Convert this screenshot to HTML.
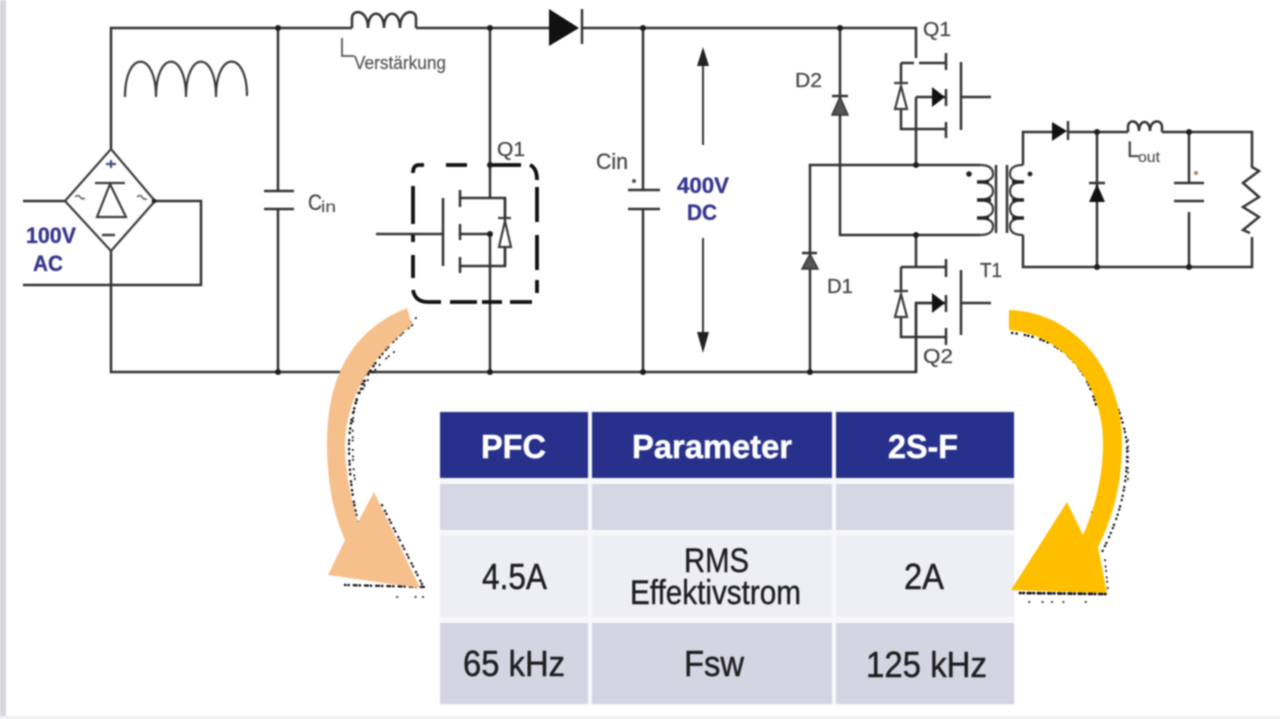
<!DOCTYPE html>
<html><head><meta charset="utf-8"><style>
html,body{margin:0;padding:0;background:#fff;width:1280px;height:719px;overflow:hidden}
svg{display:block;filter:blur(.8px)}
text{font-family:"Liberation Sans",sans-serif}
.w{fill:none;stroke:#333;stroke-width:2.5}
.t{fill:none;stroke:#3c3c3c;stroke-width:2.2}
.l{fill:#444;font-size:20px;stroke:#444;stroke-width:.25}
.s{fill:#555;font-size:15px;stroke:#555;stroke-width:.2}
.b{fill:#35358c;font-size:22px;font-weight:bold;stroke:#35358c;stroke-width:.3}
.h{fill:#fff;font-size:33px;font-weight:bold;stroke:#fff;stroke-width:.5}
.c{fill:#1e1e1e;font-size:36px;stroke:#1e1e1e;stroke-width:.45}
.c2{fill:#1e1e1e;font-size:34px;stroke:#1e1e1e;stroke-width:.4}
.d{fill:none;stroke:#0c0c0c;stroke-linecap:round}
</style></head><body>
<svg width="1280" height="719" viewBox="0 0 1280 719" xmlns="http://www.w3.org/2000/svg">
<rect width="1280" height="719" fill="#fff"/>
<rect x="0" y="0" width="6" height="719" fill="#d6d6e0"/>
<rect x="0" y="716" width="1280" height="3" fill="#f0f0f0"/>

<!-- main wires -->
<path class="w" d="M111 149V28H352M416 28H549M583 28H916V58"/>
<path class="w" d="M111 251V372H916V303H945"/>
<path class="w" d="M23 201H65M155 201H201V285H23"/>
<path class="w" d="M278 28V191M278 209V372"/>
<path class="w" d="M490 28V198M490 234V372"/>
<path class="w" d="M643 28V190M643 209V372"/>
<!-- inductor top -->
<path class="w" d="M352 28V18C352 9 368 9 368 28C368 9 384 9 384 28C384 9 400 9 400 28C400 9 416 9 416 18V28"/>
<!-- big inductor -->
<path class="t" d="M125 97C125 50 156 50 156 97C156 50 186 50 186 97C186 50 216 50 216 97C216 50 247 50 247 96"/>
<!-- bridge -->
<path class="t" d="M111 149L155 201L111 251L65 201Z"/>
<path class="t" d="M95 183H125"/>
<path class="t" d="M110 184L97 217H126Z"/>
<path d="M106 164H116M111 160V168" stroke="#3f4f80" stroke-width="2.2"/>
<path d="M102 235H115" stroke="#444" stroke-width="2.5"/>
<path d="M75 197q3-3 5 0t5 1M137 197q3-3 5 0t5 2" stroke="#7a6a60" stroke-width="1.8" fill="none"/>
<circle cx="154" cy="201" r="2.4" fill="#222"/>
<!-- Cin left plates -->
<path class="w" d="M264 191H294M264 209H294"/>
<!-- PFC mosfet -->
<path d="M424 165H419Q413 165 413 173M446 165H467M490 165H521M530 165Q537 168 537 180M537 187V222M537 235V270M537 280V293M413 186V224M413 234V242M413 255V278M413 290Q415 302 428 302H441M450 302H477M482 302H502M510 302H532" fill="none" stroke="#111" stroke-width="3.8"/>
<path class="w" d="M376 234H442M460 234H490M460 198H505V266H460"/>
<path class="w" d="M443 198V266"/>
<path class="w" d="M460 190V207M460 224V240M460 257V273"/>
<path class="t" d="M498 218H511M505 221L499 247H511Z" style="fill:#fff"/>
<path class="w" d="M505 198V218M505 247V266"/>
<!-- main diode -->
<path d="M549 9L579 28L549 46Z" fill="#111"/>
<path d="M582 9V44" stroke="#333" stroke-width="2.4"/>
<!-- Cin 2 plates -->
<path class="w" d="M628 190H660M628 209H660"/>
<circle cx="634" cy="181" r="2" fill="#554"/>
<!-- 400V arrows -->
<path d="M703 60V145M703 238V340" stroke="#333" stroke-width="2"/>
<path d="M703 47L697 66H709Z M703 353L697 332H709Z" fill="#222"/>
<!-- right half-bridge wires -->
<path class="w" d="M840 28V235H980M810 372V165H980"/>
<path class="w" d="M832 96H848"/>
<path d="M840 97L832 115H848Z" fill="#555" stroke="#333" stroke-width="1.5"/>
<path class="w" d="M802 253H817"/>
<path d="M810 254L802 269H818Z" fill="#555" stroke="#333" stroke-width="1.5"/>
<!-- upper mosfet -->
<path class="w" d="M901 63H914M919 63H946M901 63V83M901 110V129H946M916 97V165M916 97H946"/>
<path class="w" d="M946 53V70M946 89V106M946 122V138M961 62V130M961 97H991"/>
<path d="M932 87L945 97L932 107Z" fill="#111"/>
<path class="t" d="M894 83H908M901 86L895 109H907Z"/>
<!-- lower mosfet -->
<path class="w" d="M916 235V267M901 267H946M901 267V291M901 317V337H946M916 303V372M916 303H946"/>
<path class="w" d="M946 259V277M946 295V312M946 328V345M961 270V335M961 303H991"/>
<path d="M932 293L945 303L932 313Z" fill="#111"/>
<path class="t" d="M894 291H908M901 294L895 317H907Z"/>
<!-- transformer -->
<path class="w" d="M996 165V233M1007 165V233"/>
<path class="t" d="M980 165Q993 165 993 174Q993 182 977 182Q993 182 993 191Q993 200 977 200Q993 200 993 209Q993 218 977 218Q993 218 993 226Q993 235 980 235"/>
<path class="t" d="M1023 165Q1010 165 1010 174Q1010 182 1024 182Q1010 182 1010 191Q1010 200 1024 200Q1010 200 1010 209Q1010 218 1024 218Q1010 218 1010 226Q1010 235 1023 235"/>
<path d="M977 182H989M977 200H991M977 218H989M1012 182H1024M1012 200H1024M1012 218H1024" stroke="#222" stroke-width="3.4"/>
<circle cx="969" cy="174" r="2.8" fill="#222"/><circle cx="1030" cy="174" r="2.4" fill="#222"/>
<!-- output -->
<path class="w" d="M1023 165V132H1052M1068 132H1128M1162 132H1252V167L1259 171L1243 183L1259 197L1243 207L1259 217L1243 230L1250 233M1252 237V267H1023V235"/>
<path d="M1052 122L1067 131L1052 141Z" fill="#111"/>
<path d="M1068 121V140" stroke="#333" stroke-width="2.4"/>
<path class="w" d="M1097 132V267M1089 183H1105"/>
<path d="M1097 184L1089 202H1105Z" fill="#111"/>
<path class="w" d="M1128 132V127C1128 119 1139 119 1139 131C1139 119 1150 119 1150 131C1150 119 1162 119 1162 127V132"/>
<path class="w" d="M1189 132V183M1189 212V267M1174 183H1204M1174 201H1204"/>
<circle cx="1196" cy="173" r="2" fill="#a85"/>
<!-- junction dots -->
<g fill="#1c1c1c">
<circle cx="278" cy="28" r="3"/><circle cx="278" cy="372" r="3"/>
<circle cx="490" cy="28" r="3"/><circle cx="490" cy="165" r="3"/><circle cx="490" cy="234" r="3"/><circle cx="490" cy="372" r="3"/>
<circle cx="643" cy="28" r="3"/><circle cx="643" cy="372" r="3"/>
<circle cx="840" cy="28" r="3"/><circle cx="810" cy="372" r="3"/>
<circle cx="916" cy="165" r="3"/><circle cx="916" cy="235" r="3"/>
<circle cx="1097" cy="132" r="3"/><circle cx="1097" cy="267" r="3"/>
<circle cx="1189" cy="132" r="3"/><circle cx="1189" cy="267" r="3"/>
</g>
<!-- labels -->
<path d="M342 38V56H354" fill="none" stroke="#555" stroke-width="1.8"/>
<text class="s" x="354" y="69" textLength="92" lengthAdjust="spacingAndGlyphs" style="font-size:18px">Verstärkung</text>
<text class="l" x="308" y="210" textLength="14" lengthAdjust="spacingAndGlyphs" style="font-size:22px">C</text>
<text class="s" x="321" y="212" textLength="15" lengthAdjust="spacingAndGlyphs" style="font-size:16px">in</text>
<text class="l" x="497" y="156" textLength="28" lengthAdjust="spacingAndGlyphs">Q1</text>
<text class="l" x="596" y="169" textLength="32" lengthAdjust="spacingAndGlyphs" style="font-size:22px">Cin</text>
<text class="l" x="795" y="87" textLength="27" lengthAdjust="spacingAndGlyphs">D2</text>
<text class="l" x="827" y="293" textLength="26" lengthAdjust="spacingAndGlyphs">D1</text>
<text class="l" x="923" y="36" textLength="28" lengthAdjust="spacingAndGlyphs">Q1</text>
<text class="l" x="923" y="363" textLength="30" lengthAdjust="spacingAndGlyphs">Q2</text>
<text class="l" x="980" y="277" textLength="22" lengthAdjust="spacingAndGlyphs">T1</text>
<text class="l" x="1127" y="157" style="font-size:22px">L</text>
<text class="s" x="1138" y="162" textLength="22" lengthAdjust="spacingAndGlyphs">out</text>
<text class="b" x="677" y="193" textLength="52" lengthAdjust="spacingAndGlyphs">400V</text>
<text class="b" x="687" y="220" textLength="30" lengthAdjust="spacingAndGlyphs">DC</text>
<text class="b" x="26" y="243" textLength="50" lengthAdjust="spacingAndGlyphs">100V</text>
<text class="b" x="33" y="271" textLength="30" lengthAdjust="spacingAndGlyphs">AC</text>
<!-- table -->
<rect x="440" y="410" width="575" height="296" fill="#f8f8fb"/>
<g fill="#27308b">
<rect x="440" y="412" width="148" height="66"/><rect x="592" y="412" width="240" height="66"/><rect x="836" y="412" width="178" height="66"/>
</g>
<g fill="#d6d6e4">
<rect x="440" y="484" width="148" height="46"/><rect x="592" y="484" width="240" height="46"/><rect x="836" y="484" width="178" height="46"/>
</g>
<g fill="#eeeef5">
<rect x="440" y="535" width="148" height="82"/><rect x="592" y="535" width="240" height="82"/><rect x="836" y="535" width="178" height="82"/>
</g>
<g fill="#d4d4e3">
<rect x="440" y="623" width="148" height="81"/><rect x="592" y="623" width="240" height="81"/><rect x="836" y="623" width="178" height="81"/>
</g>
<text class="h" x="481" y="458" textLength="65" lengthAdjust="spacingAndGlyphs">PFC</text>
<text class="h" x="632" y="458" textLength="160" lengthAdjust="spacingAndGlyphs">Parameter</text>
<text class="h" x="888" y="458" textLength="70" lengthAdjust="spacingAndGlyphs">2S-F</text>
<text class="c" x="482" y="589" textLength="65" lengthAdjust="spacingAndGlyphs">4.5A</text>
<text class="c2" x="684" y="572" textLength="65" lengthAdjust="spacingAndGlyphs">RMS</text>
<text class="c2" x="630" y="604" textLength="171" lengthAdjust="spacingAndGlyphs">Effektivstrom</text>
<text class="c" x="904" y="589" textLength="40" lengthAdjust="spacingAndGlyphs">2A</text>
<text class="c" x="463" y="676" textLength="102" lengthAdjust="spacingAndGlyphs">65 kHz</text>
<text class="c" x="684" y="676" textLength="60" lengthAdjust="spacingAndGlyphs">Fsw</text>
<text class="c" x="866" y="677" textLength="121" lengthAdjust="spacingAndGlyphs">125 kHz</text>
<!-- orange arrow stipple -->
<path class="d" stroke-width="2.4" stroke-dasharray=".4 4 .4 7 .4 3 .4 5" d="M412 325Q352 372 349 443Q349 485 358 522"/>
<path class="d" stroke-width="1.8" stroke-dasharray=".4 6 .4 3 .4 9" d="M416 318Q358 360 353 420Q352 465 355 480M394 352Q370 370 360 396"/>
<path class="d" stroke-width="2.2" stroke-dasharray=".4 6 .4 3" d="M382 505L424 588"/>
<path class="d" stroke-width="2.4" stroke-dasharray=".4 3 .4 5 .4 2" d="M345 585L424 587"/>
<path class="d" stroke-width="1.8" stroke-dasharray=".4 18 .4 7" d="M397 597L424 597"/>
<path d="M407 308Q327 340 327 443Q327 500 345 540L328 575L420 588L374 492L358 522Q345 480 345 443Q348 375 412 325Z" fill="#f5c08c"/>
<!-- yellow arrow stipple -->
<path class="d" stroke-width="2.4" stroke-dasharray=".4 4 .4 8 .4 3" d="M1012 333C1060 338 1085 365 1096 405"/>
<path class="d" stroke-width="2.2" stroke-dasharray=".4 4 .4 6 .4 3 .4 5" d="M1065 340C1095 360 1122 400 1127 445C1128 490 1118 520 1102 552"/>
<path class="d" stroke-width="1.8" stroke-dasharray=".4 6 .4 4" d="M1092 512L1096 545M1105 560L1108 590M1128 440V480"/>
<path class="d" stroke-width="2.8" stroke-dasharray=".4 3 .4 4 .4 2" d="M1020 593L1107 594"/>
<path class="d" stroke-width="1.8" stroke-dasharray=".4 13 .4 9 .4 11 .4 22" d="M1029 602H1088"/>
<path d="M1009 310C1075 312 1122 370 1122 443Q1122 500 1098 547L1107 593L1011 590L1067 502L1083 535Q1103 490 1103 443C1103 385 1065 335 1009 330Z" fill="#fdbf00"/>
</svg>
</body></html>
